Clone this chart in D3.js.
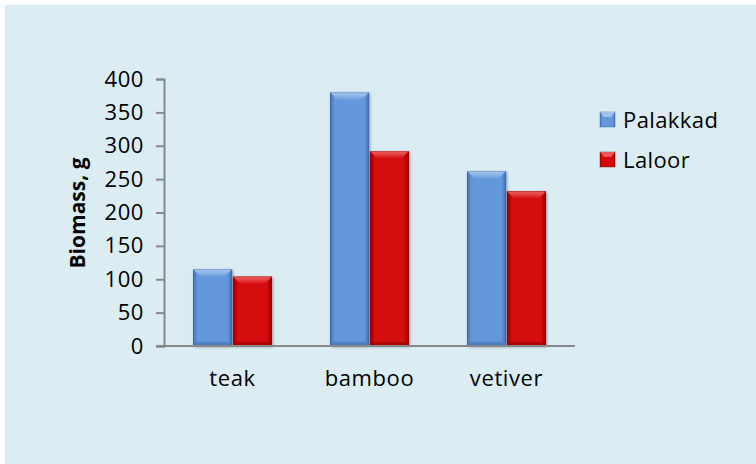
<!DOCTYPE html>
<html>
<head>
<meta charset="utf-8">
<script src="https://cdn.jsdelivr.net/npm/d3@7"></script>
<style>
  html, body { margin: 0; padding: 0; background: #ffffff; }
  svg { display: block; }
  text { font-family: "Open Sans", "Liberation Sans", sans-serif; fill: #000; }
</style>
</head>
<body>
<svg id="chart" width="756" height="464"></svg>
<script>
// Biomass per plant species at two sites
const categories = ["teak", "bamboo", "vetiver"];
const seriesNames = ["Palakkad", "Laloor"];
const palakkad = [115, 380, 262];
const laloor = [104, 292, 232];
const yTicks = [0, 50, 100, 150, 200, 250, 300, 350, 400];
const yTitle = "Biomass, g";

const W = 756, H = 464;
const svg = d3.select("#chart");
const plot = { left: 164, right: 575, top: 79, bottom: 346 };
const FS = 22;

// panel background
svg.append("rect").attr("x", 5).attr("y", 5).attr("width", W - 5).attr("height", H - 5)
  .attr("fill", "#dbedf3");

const defs = svg.append("defs");
const palettes = {
  Palakkad: { edge: "#3f6fb4", mid: "#6497dc", top: "#b0cdf2", dark: "#2f5a99" },
  Laloor:   { edge: "#9a0000", mid: "#d40808", top: "#f26a6a", dark: "#700000" }
};
Object.entries(palettes).forEach(([name, p]) => {
  const g = defs.append("linearGradient").attr("id", "body-" + name)
    .attr("x1", 0).attr("x2", 1).attr("y1", 0).attr("y2", 0);
  g.append("stop").attr("offset", 0).attr("stop-color", p.edge);
  g.append("stop").attr("offset", 0.12).attr("stop-color", p.mid);
  g.append("stop").attr("offset", 0.88).attr("stop-color", p.mid);
  g.append("stop").attr("offset", 1).attr("stop-color", p.edge);
  const t = defs.append("linearGradient").attr("id", "top-" + name)
    .attr("x1", 0).attr("x2", 0).attr("y1", 0).attr("y2", 1);
  t.append("stop").attr("offset", 0).attr("stop-color", p.top);
  t.append("stop").attr("offset", 1).attr("stop-color", p.mid);
});
const shadow = defs.append("filter").attr("id", "shadow")
  .attr("x", "-20%").attr("y", "-10%").attr("width", "140%").attr("height", "120%");
shadow.append("feDropShadow").attr("dx", 1).attr("dy", 1).attr("stdDeviation", 1.5)
  .attr("flood-color", "#000").attr("flood-opacity", 0.35);

const y = d3.scaleLinear().domain([0, 400]).range([plot.bottom, plot.top]);
const x0 = d3.scaleBand().domain(categories).range([plot.left, plot.right]).padding(0);
const x1 = d3.scaleBand().domain(seriesNames).range([0, 79]).paddingInner(0.02);
const barOffset = (x0.bandwidth() - 79) / 2;

const data = categories.map((c, i) => ({ cat: c, values: [
  { name: "Palakkad", v: palakkad[i] }, { name: "Laloor", v: laloor[i] } ] }));

// bars
const bars = svg.append("g");
data.forEach(d => {
  d.values.forEach(s => {
    const bx = x0(d.cat) + barOffset + x1(s.name);
    const bw = x1.bandwidth();
    const by = y(s.v);
    const bh = y(0) - y(s.v);
    const p = palettes[s.name];
    const g = bars.append("g");
    g.append("rect").attr("x", bx).attr("y", by).attr("width", bw).attr("height", bh)
      .attr("fill", "url(#body-" + s.name + ")").attr("filter", "url(#shadow)");
    const bev = 8;
    // top bevel
    g.append("path").attr("d", `M${bx},${by} L${bx + bw},${by} L${bx + bw - bev},${by + bev} L${bx + bev},${by + bev} Z`)
      .attr("fill", "url(#top-" + s.name + ")");
    // bottom bevel
    g.append("path").attr("d", `M${bx},${by + bh} L${bx + bw},${by + bh} L${bx + bw - 4},${by + bh - 4} L${bx + 4},${by + bh - 4} Z`)
      .attr("fill", p.edge).attr("opacity", 0.6);
    g.append("rect").attr("x", bx + 0.5).attr("y", by + 0.5).attr("width", bw - 1).attr("height", bh - 1)
      .attr("fill", "none").attr("stroke", p.dark).attr("stroke-opacity", 0.35);
  });
});

// y axis
const yAxis = d3.axisLeft(y).tickValues(yTicks).tickSize(8).tickPadding(12).tickFormat(d3.format("d"));
const ya = svg.append("g").attr("transform", `translate(${plot.left},0)`).call(yAxis);
ya.select(".domain").attr("stroke", "#888").attr("stroke-width", 2);
ya.selectAll(".tick line").attr("stroke", "#888").attr("stroke-width", 2);
ya.selectAll(".tick text").attr("font-size", FS).attr("font-family", "Open Sans, sans-serif")
  .attr("fill", "#000").attr("letter-spacing", 0.6);

// x axis
const xAxis = d3.axisBottom(x0).tickSize(0).tickPadding(24);
const xa = svg.append("g").attr("transform", `translate(0,${plot.bottom})`).call(xAxis);
xa.select(".domain").attr("stroke", "#888").attr("stroke-width", 2)
  .attr("d", `M${plot.left - 8},0H${plot.right}`);
xa.selectAll(".tick text").attr("font-size", FS).attr("font-family", "Open Sans, sans-serif")
  .attr("fill", "#000").attr("letter-spacing", 0.6);

// y title
svg.append("text").attr("transform", `translate(85,213) rotate(-90)`)
  .attr("text-anchor", "middle").attr("font-size", 21).attr("font-weight", "bold")
  .text(yTitle);

// legend
const legend = svg.append("g");
seriesNames.forEach((n, i) => {
  const ly = 120 + i * 40;
  const p = palettes[n];
  legend.append("rect").attr("x", 600).attr("y", ly - 8).attr("width", 15).attr("height", 15)
    .attr("fill", "url(#body-" + n + ")").attr("stroke", p.dark).attr("stroke-opacity", 0.4);
  legend.append("path").attr("d", `M600,${ly - 8} L615,${ly - 8} L611,${ly - 3} L604,${ly - 3} Z`)
    .attr("fill", p.top).attr("opacity", 0.8);
  legend.append("text").attr("x", 623).attr("y", ly).attr("dy", "0.36em")
    .attr("font-size", FS).attr("letter-spacing", 0.4).text(n);
});
</script>
</body>
</html>
